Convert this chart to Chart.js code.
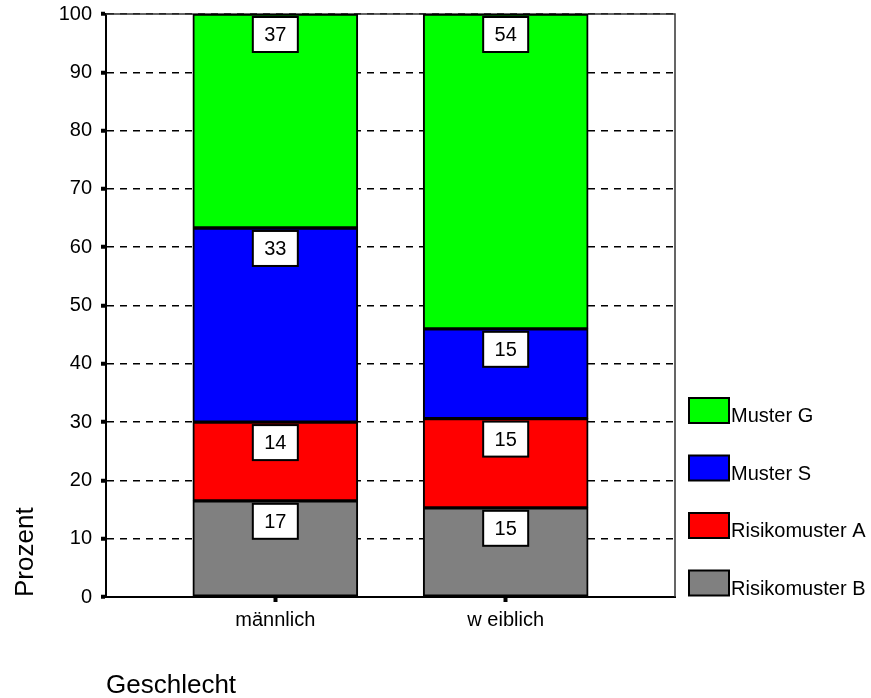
<!DOCTYPE html>
<html>
<head>
<meta charset="utf-8">
<script src="https://cdn.jsdelivr.net/npm/chart.js@4/dist/chart.umd.min.js"></script>
<style>
  html, body { margin: 0; padding: 0; background: #fff; }
  #wrap { width: 871px; height: 698px; }
</style>
</head>
<body>
<div id="wrap"><canvas id="c" width="871" height="698"></canvas></div>
<script>
// Categories and percentage shares per group (stacked to 100 %)
const categories = ['männlich', 'w eiblich'];
const risikomusterB = [16.5, 15.3];
const risikomusterA = [13.5, 15.3];
const musterS = [33.3, 15.4];
const musterG = [36.7, 54.0];
const yTicks = [0, 10, 20, 30, 40, 50, 60, 70, 80, 90, 100];

const seriesNames = ['Risikomuster B', 'Risikomuster A', 'Muster S', 'Muster G'];
const seriesValues = [risikomusterB, risikomusterA, musterS, musterG];
const seriesColors = ['#808080', '#ff0000', '#0000ff', '#00ff00'];

// Visible x range around the two category positions (0 and 1)
const X_MIN = -0.735;
const X_MAX = 1.735;

Chart.defaults.font.family = "'Liberation Sans', Arial, sans-serif";
Chart.defaults.color = '#000';

const toPoints = vals => vals.map((v, i) => ({ x: i, y: v }));

// White boxes with the rounded share near the top of each segment
const valueBoxes = {
  id: 'valueBoxes',
  afterDatasetsDraw(chart) {
    const ctx = chart.ctx;
    ctx.save();
    ctx.font = "20px 'Liberation Sans', Arial, sans-serif";
    ctx.textAlign = 'center';
    ctx.textBaseline = 'middle';
    chart.data.datasets.forEach((ds, di) => {
      const meta = chart.getDatasetMeta(di);
      meta.data.forEach((el, i) => {
        const w = 45, h = 35;
        const x = el.x - w / 2;
        const y = el.y + 3;
        ctx.fillStyle = '#fff';
        ctx.fillRect(x, y, w, h);
        ctx.lineWidth = 2;
        ctx.strokeStyle = '#000';
        ctx.strokeRect(x, y, w, h);
        ctx.fillStyle = '#000';
        ctx.fillText(String(Math.round(ds.data[i].y)), el.x, y + h / 2 + 1);
      });
    });
    ctx.restore();
  }
};

// Thin frame on the top and right edges of the plot area
const plotFrame = {
  id: 'plotFrame',
  beforeDatasetsDraw(chart) {
    const { ctx, chartArea: a } = chart;
    ctx.save();
    ctx.strokeStyle = '#333';
    ctx.lineWidth = 1.5;
    ctx.beginPath();
    ctx.moveTo(a.left, a.top);
    ctx.lineTo(a.right, a.top);
    ctx.lineTo(a.right, a.bottom);
    ctx.stroke();
    ctx.restore();
  }
};

// Legend on the right (top series first) and the two axis titles
const sideLegend = {
  id: 'sideLegend',
  afterDraw(chart) {
    const ctx = chart.ctx;
    const dsList = chart.data.datasets;
    ctx.save();
    ctx.font = "20px 'Liberation Sans', Arial, sans-serif";
    ctx.textAlign = 'left';
    ctx.textBaseline = 'alphabetic';
    const order = dsList.map((d, i) => i).reverse();
    order.forEach((di, k) => {
      const ds = dsList[di];
      const bx = 689, by = 398 + k * 57.5;
      ctx.fillStyle = ds.backgroundColor;
      ctx.fillRect(bx, by, 40, 25);
      ctx.lineWidth = 2;
      ctx.strokeStyle = '#000';
      ctx.strokeRect(bx, by, 40, 25);
      ctx.fillStyle = '#000';
      ctx.fillText(ds.label, bx + 42, by + 24);
    });

    ctx.font = "26px 'Liberation Sans', Arial, sans-serif";
    ctx.fillText('Geschlecht', 106, 693);
    ctx.translate(33, 597);
    ctx.rotate(-Math.PI / 2);
    ctx.fillText('Prozent', 0, 0);
    ctx.restore();
  }
};

new Chart(document.getElementById('c'), {
  type: 'bar',
  data: {
    datasets: seriesNames.map((name, i) => ({
      label: name,
      data: toPoints(seriesValues[i]),
      backgroundColor: seriesColors[i],
      borderColor: '#000',
      borderWidth: 2,
      borderSkipped: false,
      barThickness: 165
    }))
  },
  options: {
    responsive: false,
    animation: false,
    layout: { padding: { top: 14, right: 196, left: 0, bottom: 0 } },
    plugins: {
      legend: { display: false },
      tooltip: { enabled: false }
    },
    scales: {
      x: {
        type: 'linear',
        stacked: true,
        offset: false,
        bounds: 'data',
        min: X_MIN,
        max: X_MAX,
        afterBuildTicks: s => {
          s.ticks = categories.map((c, i) => ({ value: i }));
          s.min = X_MIN;
          s.max = X_MAX;
        },
        afterFit: s => { s.height = 101; s.paddingLeft = 0; s.paddingRight = 0; },
        ticks: {
          callback: v => categories[v],
          font: { size: 20 },
          padding: 6,
          maxRotation: 0,
          autoSkip: false
        },
        grid: {
          offset: false,
          drawOnChartArea: false,
          drawTicks: true,
          tickLength: 5,
          tickWidth: 4,
          tickColor: '#000'
        },
        border: { display: true, color: '#000', width: 2 }
      },
      y: {
        stacked: true,
        min: 0,
        max: 100,
        afterBuildTicks: s => { s.ticks = yTicks.map(v => ({ value: v })); },
        afterFit: s => { s.width = 106; s.paddingTop = 0; s.paddingBottom = 0; },
        ticks: {
          font: { size: 20 },
          padding: 9
        },
        grid: {
          color: '#000',
          lineWidth: 1.5,
          tickLength: 5,
          tickWidth: 4,
          tickColor: '#000'
        },
        border: { display: true, color: '#000', width: 2, dash: [7, 6] }
      }
    }
  },
  plugins: [plotFrame, valueBoxes, sideLegend]
});
</script>
</body>
</html>
